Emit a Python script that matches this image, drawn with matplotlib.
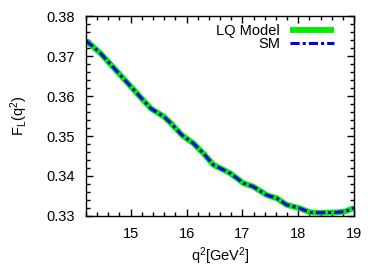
import matplotlib
matplotlib.use("Agg")
import matplotlib.pyplot as plt
from matplotlib.ticker import MultipleLocator

# values
q2 = [14.2, 14.46, 14.76, 15.06, 15.36, 15.60, 15.72, 15.92, 16.12, 16.30, 16.48,
      16.78, 17.02, 17.20, 17.44, 17.62, 17.79, 18.03, 18.21, 18.39, 18.69, 18.84, 19.0]
fl_lq = [0.3739, 0.3707, 0.3661, 0.3615, 0.3569, 0.3548, 0.3532, 0.3502, 0.3482, 0.3457,
         0.3428, 0.3407, 0.3382, 0.3373, 0.3352, 0.3344, 0.3328, 0.3319, 0.3309, 0.3308,
         0.3309, 0.3311, 0.3320]
fl_sm = fl_lq

plt.rcParams['font.family'] = ['Liberation Sans', 'DejaVu Sans']
plt.rcParams['mathtext.fontset'] = 'custom'
plt.rcParams['mathtext.rm'] = 'Liberation Sans'
plt.rcParams['mathtext.it'] = 'Liberation Sans'

fs = 10.5
fig = plt.figure(figsize=(3.82, 2.73), dpi=100)
ax = fig.add_axes([0.225, 0.209, 0.702, 0.732])

ax.plot(q2, fl_lq, color='#00ee00', lw=4.2, label='LQ Model', solid_capstyle='butt')
ax.plot(q2, fl_sm, color='#0000ee', lw=2.2, dashes=(3, 1, 1, 1), label='SM')

ax.set_xlim(14.2, 19)
ax.set_ylim(0.33, 0.38)
ax.xaxis.set_major_locator(MultipleLocator(1))
ax.xaxis.set_minor_locator(MultipleLocator(0.2))
ax.yaxis.set_major_locator(MultipleLocator(0.01))
ax.yaxis.set_minor_locator(MultipleLocator(0.002))
ax.tick_params(which='both', direction='in', top=True, right=True, labelsize=fs, pad=8)
ax.tick_params(which='major', length=5, width=1)
ax.tick_params(which='minor', length=3, width=1)
for s in ax.spines.values():
    s.set_linewidth(1)

ax.set_xlabel('q$^2$[GeV$^2$]', fontsize=fs, labelpad=3)
ax.set_ylabel('F$_\\mathrm{L}$(q$^2$)', fontsize=fs, labelpad=12)

leg = ax.legend(loc='upper right', bbox_to_anchor=(0.925, 0.96), frameon=False,
                markerfirst=False, fontsize=fs, handlelength=3.0, labelspacing=-0.1,
                borderaxespad=0.0, handletextpad=0.7, borderpad=0.0)

fig.savefig('out.png', dpi=100)
